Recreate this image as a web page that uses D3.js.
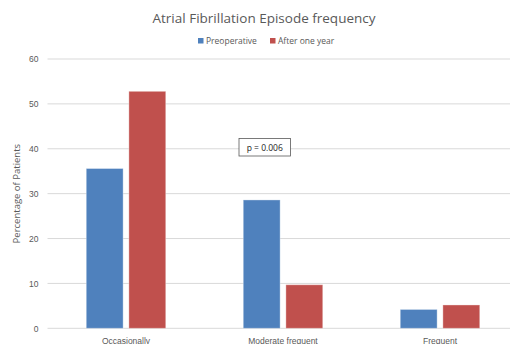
<!DOCTYPE html>
<html>
<head>
<meta charset="utf-8">
<script src="https://cdn.jsdelivr.net/npm/d3@7"></script>
<style>
body { margin: 0; background: #fff; }
svg { display: block; font-family: "Open Sans", "Liberation Sans", sans-serif; }
</style>
</head>
<body>
<svg id="chart"></svg>
<script>
const categories = ['Occasionally', 'Moderate frequent', 'Frequent'];
const seriesNames = ['Preoperative', 'After one year'];
const preoperative = [35.6, 28.6, 4.2];
const afterOneYear = [52.8, 9.7, 5.2];
const yTicks = [0, 10, 20, 30, 40, 50, 60];
const colors = ['#4F81BD', '#C0504D'];

const width = 510, height = 344;
const margin = {top: 59, left: 47.5, bottom: 16};
const plotRight = 518.5;

const svg = d3.select('#chart')
    .attr('width', width)
    .attr('height', height);

const x = d3.scaleBand()
    .domain(categories)
    .range([margin.left, plotRight])
    .paddingInner(0)
    .paddingOuter(0);

const x1 = d3.scaleBand()
    .domain(seriesNames)
    .range([38.75, x.bandwidth() - 38.75])
    .paddingInner(0.135);

const y = d3.scaleLinear()
    .domain([0, 60])
    .range([328.3, 59]);

// gridlines
svg.append('g')
    .selectAll('line')
    .data(yTicks)
    .join('line')
    .attr('x1', margin.left)
    .attr('x2', width)
    .attr('y1', d => y(d))
    .attr('y2', d => y(d))
    .attr('stroke', '#D9D9D9')
    .attr('stroke-width', 1);

// y axis
const yAxis = d3.axisLeft(y).tickValues(yTicks).tickSize(0).tickPadding(9);
const yg = svg.append('g')
    .attr('transform', `translate(${margin.left},0)`)
    .call(yAxis);
yg.select('.domain').remove();
yg.selectAll('text')
    .attr('fill', '#595959')
    .style('font-size', '8.5px');

// bars
const rows = categories.map((c, i) => ({cat: c, values: [preoperative[i], afterOneYear[i]]}));
const groups = svg.append('g')
    .selectAll('g')
    .data(rows)
    .join('g')
    .attr('transform', d => `translate(${x(d.cat)},0)`);

groups.selectAll('rect')
    .data(d => d.values.map((v, j) => ({name: seriesNames[j], value: v, j})))
    .join('rect')
    .attr('x', d => x1(d.name))
    .attr('y', d => y(d.value))
    .attr('width', x1.bandwidth())
    .attr('height', d => y(0) - y(d.value))
    .attr('fill', d => colors[d.j])
    .attr('stroke', 'rgba(255,255,255,0.35)')
    .attr('stroke-width', 1);

// x axis labels
const xAxis = d3.axisBottom(x).tickSize(0).tickPadding(10);
const xg = svg.append('g')
    .attr('transform', `translate(0,${y(0)})`)
    .call(xAxis);
xg.select('.domain').remove();
xg.selectAll('text')
    .attr('fill', '#595959')
    .style('font-size', '8.5px');

// y title
svg.append('text')
    .attr('transform', `translate(20,${(y(0) + y(60)) / 2}) rotate(-90)`)
    .attr('text-anchor', 'middle')
    .attr('fill', '#595959')
    .style('font-size', '9.5px')
    .text('Percentage of Patients');

// title
svg.append('text')
    .attr('x', 264)
    .attr('y', 23)
    .attr('text-anchor', 'middle')
    .attr('fill', '#595959')
    .style('font-size', '13.5px')
    .text('Atrial Fibrillation Episode frequency');

// legend
const legendX = [198, 270];
const legend = svg.append('g')
    .selectAll('g')
    .data(seriesNames)
    .join('g')
    .attr('transform', (d, i) => `translate(${legendX[i]},38)`);
legend.append('rect')
    .attr('width', 5.5)
    .attr('height', 5.5)
    .attr('fill', (d, i) => colors[i]);
legend.append('text')
    .attr('x', 8)
    .attr('y', 5.8)
    .attr('fill', '#595959')
    .style('font-size', '8.5px')
    .text(d => d);

// p-value box
const pg = svg.append('g').attr('transform', 'translate(239,138.5)');
pg.append('rect')
    .attr('width', 51.5)
    .attr('height', 17.5)
    .attr('fill', '#fff')
    .attr('stroke', '#595959')
    .attr('stroke-width', 0.8);
pg.append('text')
    .attr('x', 25.75)
    .attr('y', 12)
    .attr('text-anchor', 'middle')
    .attr('fill', '#222')
    .style('font-size', '8.5px')
    .text('p = 0.006');
</script>
</body>
</html>
